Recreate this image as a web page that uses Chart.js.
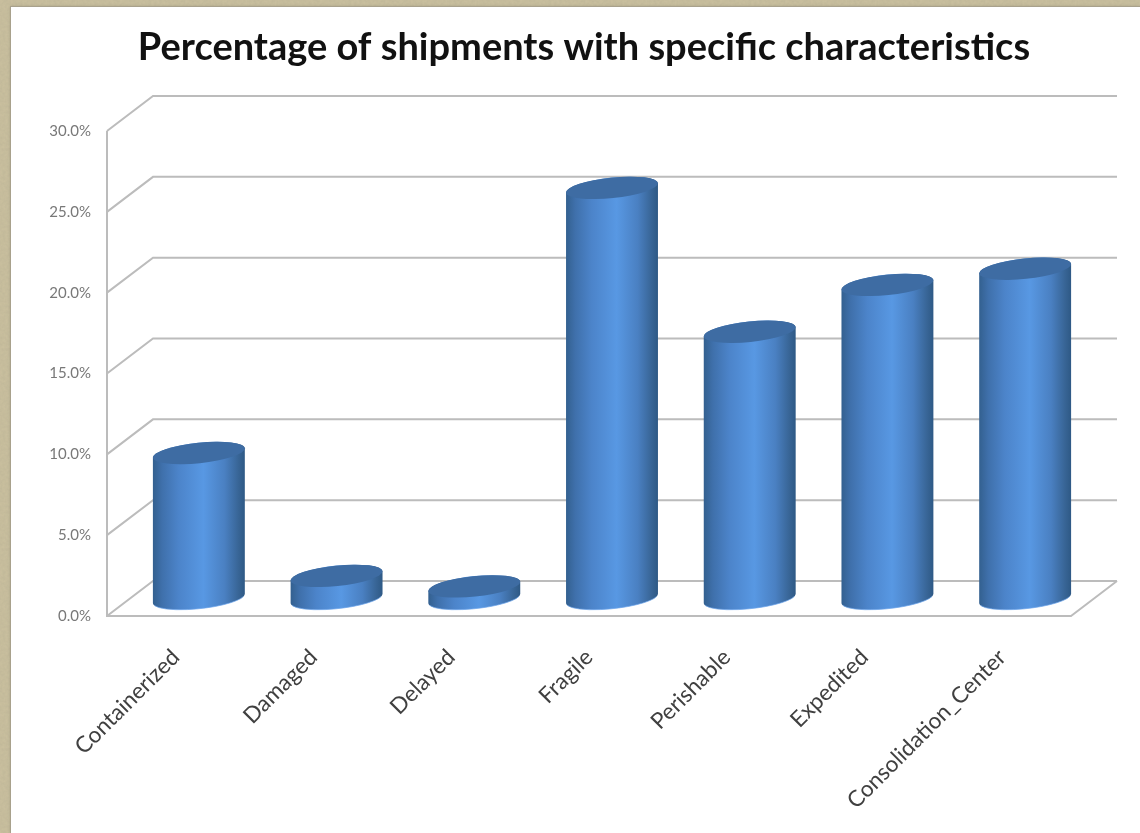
<!DOCTYPE html>
<html>
<head>
<meta charset="utf-8">
<title>Shipments</title>
<script src="https://cdn.jsdelivr.net/npm/chart.js@4"></script>
<style>
  html, body { margin: 0; height: 100%; overflow: hidden; }
  /* grainy khaki slide background */
  body {
    background-color: #c9bf9e;
    background-image: url("data:image/svg+xml,%3Csvg xmlns='http://www.w3.org/2000/svg' width='200' height='200'%3E%3Cfilter id='n'%3E%3CfeTurbulence type='fractalNoise' baseFrequency='0.35' numOctaves='2' seed='4'/%3E%3CfeColorMatrix values='0 0 0 0 0.45 0 0 0 0 0.41 0 0 0 0 0.28 0 0 0 0.5 -0.1'/%3E%3C/filter%3E%3Crect width='200' height='200' filter='url(%23n)'/%3E%3C/svg%3E");
  }
  #panel { position: absolute; left: 11px; top: 7px; width: 1129px; height: 826px; background: #fff; box-shadow: 0 0 0 1px #a8a18c, 0 0 3px #8e8874; }
  #box { position: absolute; left: 0; top: 0; width: 1140px; height: 833px; }
</style>
</head>
<body>
<div id="panel"></div>
<div id="box"><canvas id="shipChart" width="1140" height="833"></canvas></div>
<script>
var categories = ["Containerized", "Damaged", "Delayed", "Fragile", "Perishable", "Expedited", "Consolidation_Center"];
var shipmentPct = [9.0, 1.4, 0.75, 25.4, 16.5, 19.4, 20.4];

// how far the back wall sits behind the front plane
var depthX = 46;
var depthY = 35;
var tilt = -6 * Math.PI / 180;
var capHalfHeight = 10.2;

// back wall, side wall and floor, one line per tick
var wallsPlugin = {
  id: "walls",
  beforeDatasetsDraw: function (chart) {
    var ctx = chart.ctx;
    var yScale = chart.scales.y;
    var left = chart.chartArea.left;
    var right = chart.chartArea.right;
    ctx.save();
    ctx.strokeStyle = "#bcbcbc";
    ctx.lineWidth = 2;
    yScale.ticks.forEach(function (tick) {
      var y = yScale.getPixelForValue(tick.value);
      ctx.beginPath();
      ctx.moveTo(left, y);
      ctx.lineTo(left + depthX, y - depthY);
      ctx.lineTo(right + depthX, y - depthY);
      ctx.stroke();
    });
    var top = yScale.getPixelForValue(30);
    var zero = yScale.getPixelForValue(0);
    ctx.beginPath();
    ctx.moveTo(left, top);
    ctx.lineTo(left, zero);
    ctx.lineTo(right, zero);
    ctx.lineTo(right + depthX, zero - depthY);
    ctx.stroke();
    ctx.restore();
  },
  // the bars are drawn as cylinders standing in the middle of the floor
  beforeDatasetDraw: function (chart, args) {
    var ctx = chart.ctx;
    args.meta.data.forEach(function (bar) {
      drawCylinder(ctx, bar.x + depthX / 2, bar.y - depthY / 2, bar.base - depthY / 2, bar.width / 2);
    });
    return false;
  }
};

function drawCylinder(ctx, cx, topY, baseY, halfW) {
  // a bit wider than halfW because the ellipse is rotated
  var a = halfW + 0.2;
  var b = capHalfHeight;
  var t0 = Math.atan(-(b * Math.sin(tilt)) / (a * Math.cos(tilt)));

  var grad = ctx.createLinearGradient(cx - halfW, 0, cx + halfW, 0);
  grad.addColorStop(0, "#33608f");
  grad.addColorStop(0.1, "#3f70ab");
  grad.addColorStop(0.28, "#4c84ca");
  grad.addColorStop(0.55, "#5898e3");
  grad.addColorStop(0.78, "#4a80c2");
  grad.addColorStop(0.93, "#386596");
  grad.addColorStop(1, "#2e5985");

  ctx.save();
  ctx.beginPath();
  ctx.ellipse(cx, baseY, a, b, tilt, t0, t0 + Math.PI);
  ctx.ellipse(cx, topY, a, b, tilt, t0 + Math.PI, t0 + 2 * Math.PI);
  ctx.closePath();
  ctx.fillStyle = grad;
  ctx.fill();

  // thin light rim under the base
  ctx.beginPath();
  ctx.ellipse(cx, baseY, a, b, tilt, t0 + 0.25, t0 + Math.PI - 0.25);
  ctx.strokeStyle = "rgba(110,165,235,0.7)";
  ctx.lineWidth = 1;
  ctx.stroke();

  // top cap
  ctx.beginPath();
  ctx.ellipse(cx, topY, a, b, tilt, 0, 2 * Math.PI);
  ctx.fillStyle = "#3e6ca3";
  ctx.fill();
  ctx.restore();
}

new Chart("shipChart", {
  type: "bar",
  data: {
    labels: categories,
    datasets: [
      {
        data: shipmentPct,
        backgroundColor: "#4c84ca",
        barPercentage: 0.668,
        categoryPercentage: 1,
      },
    ],
  },
  options: {
    responsive: false,
    animation: false,
    layout: { padding: { left: 28, right: 0, top: 20, bottom: 0 } },
    plugins: {
      legend: { display: false },
      tooltip: { enabled: false },
      title: {
        display: true,
        text: "Percentage of shipments with specific characteristics",
        color: "#111111",
        font: { family: "Lato", size: 38, weight: "bold", lineHeight: 1.2 },
        padding: { top: 5, bottom: 60.4 },
      },
    },
    scales: {
      x: {
        grid: { display: false, drawTicks: false },
        border: { display: false },
        afterFit: function (scale) { scale.height = 217; },
        ticks: {
          color: "#404040",
          font: { family: "Lato", size: 22.5 },
          minRotation: 45,
          maxRotation: 45,
          autoSkip: false,
          padding: 28,
        },
      },
      y: {
        min: 0,
        max: 30,
        grid: { display: false, drawTicks: false },
        border: { display: false },
        afterFit: function (scale) { scale.width = 79; },
        ticks: {
          stepSize: 5,
          color: "#787878",
          font: { family: "Lato", size: 15 },
          padding: 16,
          callback: function (value) { return value.toFixed(1) + "%"; },
        },
      },
      // empty axis that keeps the plot clear of the right edge
      spacer: {
        position: "right",
        display: true,
        grid: { display: false, drawTicks: false },
        border: { display: false },
        ticks: { display: false },
        afterFit: function (scale) { scale.width = 69; },
      },
    },
  },
  plugins: [wallsPlugin],
});
</script>
</body>
</html>
